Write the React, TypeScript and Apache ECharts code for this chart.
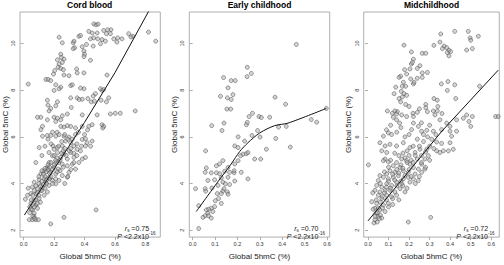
import React, { useEffect, useRef } from "react";
import * as echarts from "echarts";

// ---------- data ----------
const panelTitles = ["Cord blood", "Early childhood", "Midchildhood"];
const xAxisTitle = "Global 5hmC (%)";
const yAxisTitle = "Global 5mC (%)";
const rhoLabels = ["0.75", "0.70", "0.72"];
const pLabel = "2.2x10";
const pExponent = "-16";

const yTicks = [2, 4, 6, 8, 10];
const xTicksCord = [0, 0.2, 0.4, 0.6, 0.8];
const xTicksEarly = [0, 0.1, 0.2, 0.3, 0.4, 0.5, 0.6];
const xTicksMid = [0, 0.1, 0.2, 0.3, 0.4, 0.5, 0.6];

const cordBloodPoints: number[][] = [
  [0.461,10.84],[0.476,10.80],[0.489,10.83],[0.428,10.52],[0.450,10.45],[0.483,10.45],[0.526,10.56],[0.552,10.59],[0.574,10.59],[0.544,10.42],
  [0.570,10.42],[0.690,10.42],[0.718,10.31],[0.820,10.49],[0.868,10.10],[0.233,10.27],[0.254,10.03],[0.439,10.20],[0.461,10.24],[0.487,10.20],
  [0.515,10.17],[0.592,10.20],[0.618,10.24],[0.613,10.06],[0.646,10.20],[0.705,10.28],[0.505,9.99],[0.457,9.89],[0.537,10.10],[0.326,10.03],
  [0.331,10.10],[0.363,10.31],[0.374,10.34],[0.335,9.82],[0.326,9.78],[0.385,9.86],[0.413,9.96],[0.396,9.68],[0.400,9.54],[0.439,9.28],
  [0.396,9.44],[0.244,9.54],[0.248,9.40],[0.222,9.30],[0.265,9.33],[0.254,9.19],[0.233,9.12],[0.226,8.98],[0.244,8.93],[0.261,8.88],
  [0.204,8.84],[0.196,8.69],[0.265,8.65],[0.298,8.62],[0.348,8.91],[0.352,8.74],[0.396,8.74],[0.548,8.65],[0.146,8.46],[0.161,8.46],
  [0.178,8.41],[0.244,8.13],[0.233,8.06],[0.309,8.20],[0.320,8.23],[0.211,8.23],[0.030,8.26],[0.200,7.99],[0.396,8.06],[0.374,8.09],
  [0.385,7.61],[0.309,7.67],[0.422,7.64],[0.444,7.50],[0.472,7.85],[0.457,7.75],[0.515,7.99],[0.505,8.06],[0.526,8.03],[0.559,7.67],
  [0.544,7.50],[0.509,7.57],[0.352,7.67],[0.365,7.60],[0.465,7.53],[0.313,7.26],[0.222,7.50],[0.178,7.22],[0.167,7.11],[0.211,7.33],
  [0.602,7.01],[0.635,7.01],[0.733,7.11],[0.156,7.57],[0.160,7.36],
  [0.091,6.84],[0.113,6.84],[0.156,6.73],[0.200,6.84],[0.222,6.80],[0.244,6.73],[0.211,6.66],[0.254,6.90],[0.287,6.98],[0.385,6.94],
  [0.483,6.94],[0.570,6.98],[0.515,6.52],[0.526,6.45],[0.520,6.38],[0.450,6.52],[0.428,6.45],[0.385,6.45],[0.341,6.38],[0.309,6.45],
  [0.287,6.48],[0.265,6.42],[0.244,6.45],[0.124,6.45],[0.113,6.31],[0.124,6.03],[0.156,6.06],[0.178,6.06],[0.211,6.03],[0.233,6.10],
  [0.265,6.03],[0.298,5.99],[0.385,5.89],[0.406,5.92],[0.417,5.75],[0.406,5.61],[0.450,5.82],[0.102,5.54],[0.193,5.61],[0.222,5.54],
  [0.254,5.61],[0.276,5.82],[0.309,5.75],[0.330,5.61],[0.352,5.47],[0.373,5.40],[0.309,5.33],[0.265,5.26],[0.222,5.33],[0.189,5.19],
  [0.167,5.33],[0.200,5.47],[0.244,5.12],[0.287,5.05],[0.330,5.12],[0.385,5.05],[0.406,5.12],[0.363,4.90],[0.320,4.83],[0.287,4.76],
  [0.254,4.83],[0.211,4.90],[0.167,4.90],[0.080,4.90],[0.200,4.69],[0.229,4.62],[0.156,4.69],[0.135,4.55],[0.178,4.48],[0.211,4.41],
  [0.113,4.41],[0.298,4.48],[0.341,4.62],[0.287,4.27],[0.254,4.34],[0.167,4.27],[0.135,4.20],[0.102,4.17],[0.069,4.06],[0.146,4.06],
  [0.189,4.13],[0.233,4.13],[0.211,3.99],[0.167,3.92],[0.124,3.85],[0.091,3.78],[0.058,3.85],[0.113,3.71],[0.156,3.64],[0.080,3.57],
  [0.047,3.57],[0.135,3.50],[0.026,3.50],[0.011,3.33],[0.102,3.36],[0.069,3.29],[0.047,3.15],[0.080,3.08],[0.091,2.94],[0.058,2.87],
  [0.069,2.73],[0.037,2.45],[0.058,2.45],[0.080,2.45],[0.097,2.45],[0.069,2.59],[0.265,2.55],[0.476,2.87],[0.178,2.27],
  [0.10,4.0],[0.12,4.1],[0.14,4.3],[0.15,4.5],[0.16,4.6],[0.13,4.4],[0.11,3.9],[0.09,3.6],[0.12,3.7],[0.14,3.8],
  [0.15,4.0],[0.17,4.2],[0.18,4.3],[0.19,4.6],[0.17,4.7],[0.16,4.8],[0.14,4.65],[0.12,4.55],[0.10,4.3],[0.08,3.9],
  [0.07,3.7],[0.06,3.5],[0.08,3.3],[0.10,3.5],[0.11,3.2],[0.06,3.1],[0.05,2.9],[0.07,3.0],[0.09,3.15],[0.20,4.8],
  [0.21,5.0],[0.22,5.1],[0.23,4.9],[0.24,5.0],[0.25,5.3],[0.26,5.4],[0.27,5.5],[0.28,5.2],[0.23,5.6],[0.25,5.8],
  [0.27,6.1],[0.29,5.9],[0.30,5.4],[0.31,5.5],[0.32,5.9],[0.34,6.1],[0.35,5.7],[0.36,6.2],[0.33,5.3],[0.35,5.2],
  [0.19,4.0],[0.21,4.2],[0.22,4.5],[0.24,4.55],[0.26,4.7],[0.13,3.95],[0.15,4.15],[0.17,4.45],[0.18,4.9],[0.20,5.2],
  [0.05,3.3],[0.04,3.0],[0.06,2.6],[0.04,2.75],[0.07,2.5],[0.03,3.8],[0.12,5.2],[0.14,5.6],[0.16,5.9],[0.18,5.7],
  [0.19,6.2],[0.22,6.2],[0.27,4.0],[0.29,4.3],[0.31,4.6],[0.33,4.9],[0.38,5.6],[0.40,6.1],[0.42,6.3],[0.44,5.6],
];

const earlyChildhoodPoints: number[][] = [
  [0.463,9.96],[0.244,8.98],[0.262,8.72],[0.243,8.58],[0.138,8.54],[0.172,8.41],[0.190,8.41],[0.158,8.10],[0.124,7.74],[0.155,7.67],
  [0.180,7.81],[0.172,7.60],[0.153,7.19],[0.170,7.19],[0.368,7.70],[0.415,7.40],[0.597,7.22],[0.530,6.74],[0.554,6.63],[0.085,6.48],
  [0.140,6.59],[0.131,6.27],[0.267,7.01],[0.252,6.87],[0.240,6.52],[0.244,6.62],[0.296,6.87],[0.307,6.83],[0.344,6.84],[0.384,6.42],
  [0.418,6.45],[0.290,6.27],[0.203,6.00],[0.265,6.06],[0.301,5.99],[0.371,5.93],[0.436,5.56],[0.188,5.61],[0.203,5.54],[0.232,5.82],
  [0.058,5.40],[0.214,5.19],[0.225,5.26],[0.240,5.28],[0.247,5.33],[0.277,5.05],[0.304,5.05],[0.329,5.47],[0.135,4.98],[0.120,4.84],
  [0.203,4.98],[0.188,4.84],[0.158,4.69],[0.106,4.76],[0.061,4.67],[0.056,4.48],[0.083,4.46],[0.106,4.46],[0.121,4.42],[0.143,4.53],
  [0.165,4.48],[0.185,4.46],[0.217,4.48],[0.185,4.55],[0.247,4.20],[0.158,4.27],[0.128,4.25],[0.098,4.16],[0.068,4.13],[0.188,4.11],
  [0.135,4.06],[0.146,3.99],[0.165,3.96],[0.113,3.92],[0.086,3.81],[0.056,3.78],[0.058,3.67],[0.013,3.78],[0.140,3.78],[0.155,3.64],
  [0.110,3.57],[0.128,3.57],[0.135,3.68],[0.158,3.54],[0.116,3.36],[0.101,3.26],[0.128,3.15],[0.027,3.05],[0.098,3.01],[0.083,2.94],
  [0.071,2.90],[0.061,2.87],[0.090,2.80],[0.068,2.73],[0.056,2.62],[0.071,2.62],[0.083,2.52],[0.027,2.07],[0.046,2.55],
];

const midchildhoodPoints: number[][] = [
  [0.175,9.93],[0.211,9.64],[0.264,9.58],[0.281,9.58],[0.321,9.92],[0.354,10.41],[0.350,10.06],[0.370,9.89],[0.383,9.82],[0.394,9.71],
  [0.402,9.65],[0.386,9.61],[0.362,9.78],[0.394,9.47],[0.422,10.52],[0.488,10.52],[0.497,10.24],[0.500,10.14],[0.537,10.31],[0.480,9.72],
  [0.508,9.78],[0.221,9.33],[0.211,9.12],[0.204,8.91],[0.216,9.19],[0.240,8.93],[0.253,9.05],[0.264,8.74],[0.289,8.76],[0.240,8.51],
  [0.264,8.55],[0.208,8.48],[0.188,8.69],[0.178,8.88],[0.172,8.34],[0.159,8.60],[0.151,8.55],[0.221,8.27],[0.183,8.17],[0.167,8.17],
  [0.162,7.95],[0.175,7.85],[0.188,7.78],[0.167,7.71],[0.151,7.64],[0.135,8.13],[0.127,7.85],[0.159,7.50],[0.183,7.39],[0.224,8.34],
  [0.357,8.27],[0.389,8.37],[0.422,8.23],[0.386,7.99],[0.427,7.64],[0.321,7.64],[0.337,7.57],[0.281,7.39],[0.281,7.25],[0.318,7.11],
  [0.337,7.11],[0.289,7.08],[0.240,7.05],[0.219,7.01],[0.143,7.08],[0.131,7.11],[0.118,7.01],[0.094,7.11],[0.543,8.17],
  [0.508,6.87],[0.491,6.66],[0.500,6.45],[0.621,6.87],[0.634,6.87],
  [0.139,6.98],[0.123,6.84],[0.164,6.94],[0.139,6.73],[0.154,6.59],[0.188,6.87],[0.221,6.87],[0.326,6.94],[0.350,6.73],[0.383,6.59],
  [0.431,6.73],[0.464,6.80],[0.480,6.94],[0.399,6.45],[0.221,6.59],[0.245,6.45],[0.212,6.31],[0.261,6.24],[0.286,6.28],[0.318,6.24],
  [0.358,6.31],[0.399,6.24],[0.431,6.24],[0.407,6.03],[0.334,5.78],[0.358,5.72],[0.399,5.75],[0.415,5.47],[0.391,5.40],[0.350,5.33],
  [0.367,5.40],[0.334,5.40],[0.099,6.17],[0.075,6.03],[0.115,6.10],[0.058,5.75],[0.083,5.61],[0.107,5.68],[0.067,5.40],[0.091,5.33],
  [0.083,5.05],[0.075,4.98],[0.099,4.93],[0.002,4.80],[0.139,5.61],[0.172,5.75],[0.204,5.54],[0.229,5.33],[0.253,5.47],[0.286,5.47],
  [0.294,5.19],[0.277,5.05],[0.261,4.83],[0.245,4.62],[0.221,4.69],[0.204,4.83],[0.188,4.98],[0.164,5.05],[0.139,4.90],[0.123,4.76],
  [0.156,4.69],[0.172,4.55],[0.196,4.48],[0.229,4.41],[0.261,4.48],[0.277,4.62],[0.131,4.48],[0.107,4.55],[0.091,4.41],[0.058,4.34],
  [0.075,4.27],[0.050,4.13],[0.099,4.20],[0.123,4.27],[0.148,4.34],[0.172,4.20],[0.196,4.27],[0.221,4.20],[0.245,4.13],[0.204,4.06],
  [0.164,3.99],[0.139,4.06],[0.115,3.92],[0.091,3.99],[0.067,3.85],[0.042,3.92],[0.034,3.71],[0.058,3.64],[0.083,3.71],[0.107,3.71],
  [0.131,3.64],[0.156,3.78],[0.180,3.64],[0.139,3.50],[0.115,3.43],[0.091,3.50],[0.067,3.36],[0.023,3.60],[0.018,3.22],[0.042,3.15],
  [0.075,3.08],[0.099,3.15],[0.034,2.94],[0.058,2.87],[0.083,2.80],[0.039,2.73],[0.050,2.59],[0.067,2.52],[0.034,2.45],[0.029,2.31],
  [0.196,2.35],[0.305,2.55],
  [0.10,4.1],[0.12,4.4],[0.14,4.6],[0.16,4.8],[0.18,5.1],[0.20,5.2],[0.11,3.8],[0.13,4.15],[0.15,4.45],[0.17,4.65],
  [0.19,4.9],[0.21,5.0],[0.23,5.2],[0.25,5.6],[0.27,5.8],[0.08,3.6],[0.09,3.85],[0.07,3.45],[0.06,3.2],[0.05,2.95],
  [0.045,2.75],[0.06,2.65],[0.07,2.95],[0.09,3.3],[0.12,3.35],[0.14,3.9],[0.16,4.1],[0.18,4.35],[0.20,4.6],[0.22,4.9],
  [0.24,5.05],[0.26,5.2],[0.28,5.35],[0.30,5.6],[0.31,5.9],[0.29,6.0],[0.27,6.1],[0.33,6.1],[0.32,5.5],[0.24,5.9],
  [0.22,5.6],[0.19,5.4],[0.17,5.3],[0.15,5.2],[0.13,5.3],[0.11,5.0],[0.10,4.7],[0.08,4.5],[0.06,4.0],[0.05,3.5],
  [0.04,3.3],[0.10,3.0],[0.12,3.1],[0.15,3.3],[0.17,3.9],[0.19,3.8],[0.21,4.3],[0.23,4.0],[0.25,4.3],[0.26,4.9],
  [0.28,4.7],[0.30,5.0],[0.035,2.6],[0.025,2.9],[0.045,2.35],[0.055,2.5],[0.14,6.2],[0.16,6.4],[0.18,6.0],[0.20,6.1],
  [0.26,6.6],[0.30,6.5],[0.34,7.3],[0.36,7.0],[0.25,7.2],[0.20,7.3],[0.11,6.5],[0.09,6.3],
];

const cordBloodFit: number[][] = [[0.005,2.65],[0.2,4.62],[0.4,6.62],[0.6,8.75],[0.84,11.6]];
const earlyChildhoodFit: number[][] = [[0.016,2.80],[0.106,3.99],[0.172,4.84],[0.21,5.37],[0.247,5.75],[0.30,6.17],[0.366,6.48],[0.426,6.59],[0.597,7.22]];
const midchildhoodFit: number[][] = [[0.0,2.4],[0.36,6.25],[0.634,8.86]];

// ---------- layout ----------
const FONT = "Liberation Sans, Arial, sans-serif";
const panels = [
  { left: 19, width: 141.3, xMin: -0.024, xMax: 0.898, ticks: xTicksCord, points: cordBloodPoints, fit: cordBloodFit, smooth: false },
  { left: 189.3, width: 140.4, xMin: -0.015, xMax: 0.612, ticks: xTicksEarly, points: earlyChildhoodPoints, fit: earlyChildhoodFit, smooth: 0.3 },
  { left: 363.7, width: 135.6, xMin: -0.021, xMax: 0.639, ticks: xTicksMid, points: midchildhoodPoints, fit: midchildhoodFit, smooth: false },
];
const GRID_TOP = 12;
const GRID_H = 229;
const Y_MIN = 1.705;
const Y_MAX = 11.35;

export default function App() {
  const ref = useRef<HTMLDivElement>(null);
  useEffect(() => {
    if (!ref.current) return;
    const chart = echarts.init(ref.current, undefined, { renderer: "svg" });
    const tickColor = "#9a9a9a";
    const option: any = {
      animation: false,
      textStyle: { fontFamily: FONT },
      grid: panels.map((p) => ({
        left: p.left, top: GRID_TOP, width: p.width, height: GRID_H,
        show: true, borderColor: tickColor, borderWidth: 0.8, backgroundColor: "transparent",
        containLabel: false,
      })),
      xAxis: panels.map((p, i) => ({
        type: "value", gridIndex: i, min: p.xMin, max: p.xMax,
        axisLine: { show: false }, splitLine: { show: false },
        axisTick: { show: true, customValues: p.ticks, length: 3, lineStyle: { color: tickColor, width: 0.8 } },
        axisLabel: { customValues: p.ticks, fontSize: 5.5, color: "#333", margin: 4, fontFamily: FONT,
          formatter: (v: number) => v.toFixed(1) },
        name: xAxisTitle, nameLocation: "middle", nameGap: 13,
        nameTextStyle: { fontSize: 8, color: "#222", fontFamily: FONT },
      })),
      yAxis: panels.map((p, i) => ({
        type: "value", gridIndex: i, min: Y_MIN, max: Y_MAX,
        axisLine: { show: false }, splitLine: { show: false },
        axisTick: { show: true, customValues: yTicks, length: 3, lineStyle: { color: tickColor, width: 0.8 } },
        axisLabel: { customValues: yTicks, fontSize: 5.5, color: "#333", margin: 4, rotate: 90, fontFamily: FONT,
          formatter: (v: number) => String(Math.round(v)) },
        name: yAxisTitle, nameLocation: "middle", nameGap: 11, nameRotate: 90,
        nameTextStyle: { fontSize: 8, color: "#222", fontFamily: FONT },
      })),
      series: [
        ...panels.map((p, i) => ({
          type: "scatter", xAxisIndex: i, yAxisIndex: i, data: p.points,
          symbol: "circle", symbolSize: 4,
          itemStyle: { color: "rgba(165,165,165,0.6)", borderColor: "rgba(60,60,60,0.85)", borderWidth: 0.7 },
          emphasis: { disabled: true }, z: 2,
        })),
        ...panels.map((p, i) => ({
          type: "line", xAxisIndex: i, yAxisIndex: i, data: p.fit, showSymbol: false, symbol: "none",
          smooth: p.smooth, clip: true,
          lineStyle: { color: "#111", width: 1 }, z: 3,
        })),
      ],
      graphic: [
        ...panels.map((p, i) => ({
          type: "text", x: p.left + p.width / 2, y: 5,
          style: { text: panelTitles[i], font: `bold 8.5px ${FONT}`, fill: "#000", align: "center", verticalAlign: "middle" },
        })),
        ...panels.map((p, i) => ({
          type: "text", x: p.left + p.width - 35.5, y: 228,
          style: {
            text: `{i|r}{s|s}{n| =${rhoLabels[i]}}`,
            verticalAlign: "middle", align: "left", fill: "#222",
            rich: {
              i: { fontStyle: "italic", fontSize: 7, lineHeight: 10, fontFamily: FONT, fill: "#222" },
              s: { fontSize: 4.5, lineHeight: 5, verticalAlign: "bottom", fontFamily: FONT, fill: "#222" },
              n: { fontSize: 7, lineHeight: 10, fontFamily: FONT, fill: "#222" },
            },
          },
        })),
        ...panels.map((p, i) => ({
          type: "text", x: p.left + p.width - 43, y: 236,
          style: {
            text: `{i|P}{n| <${pLabel}}{e|${pExponent}}`,
            verticalAlign: "middle", align: "left", fill: "#222",
            rich: {
              i: { fontStyle: "italic", fontSize: 7, lineHeight: 10, fontFamily: FONT, fill: "#222" },
              n: { fontSize: 7, lineHeight: 10, fontFamily: FONT, fill: "#222" },
              e: { fontSize: 4.5, lineHeight: 5, verticalAlign: "top", fontFamily: FONT, fill: "#222" },
            },
          },
        })),
      ],
    };
    chart.setOption(option);
    return () => chart.dispose();
  }, []);
  return (
    <div
      ref={ref}
      style={{ position: "fixed", left: 0, top: 0, width: 504, height: 265, background: "#fff" }}
    />
  );
}
